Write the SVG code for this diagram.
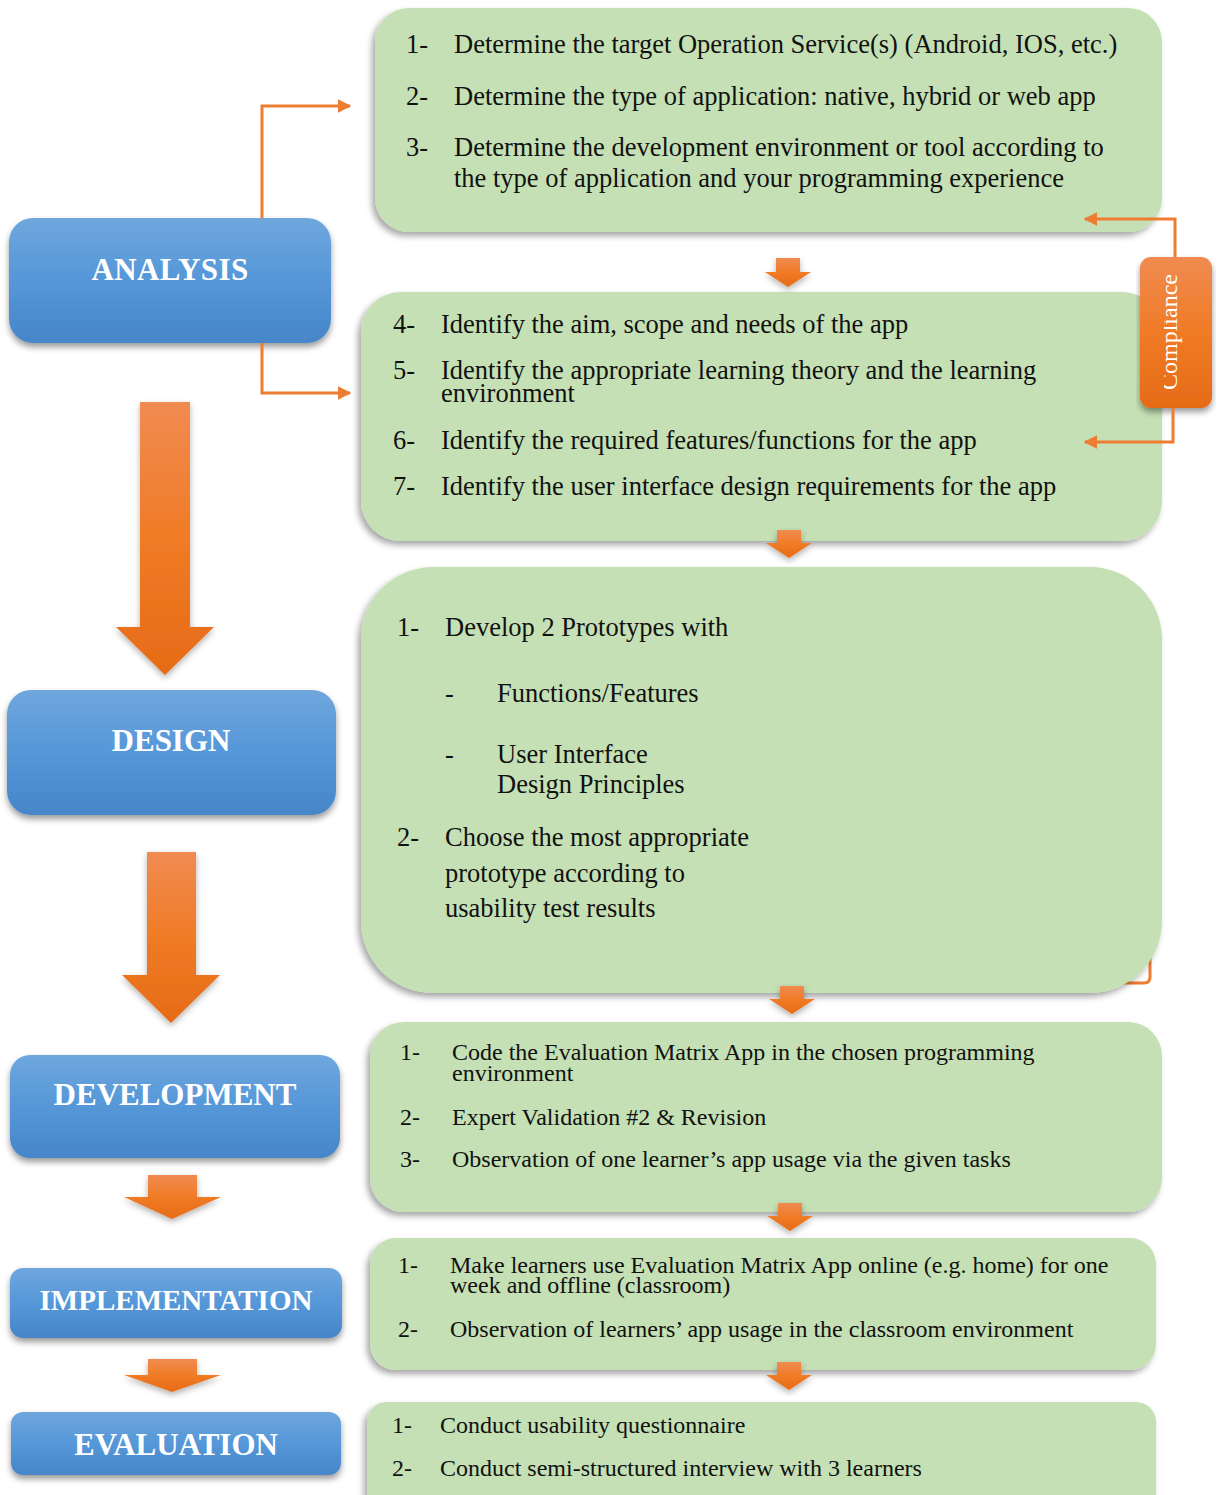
<svg xmlns="http://www.w3.org/2000/svg" width="1221" height="1495" viewBox="0 0 1221 1495">
<defs>
<style>
.g{fill:#c5e0b4;filter:url(#shG)}
.b{fill:url(#blueGrad);filter:url(#shB)}
.bigA{fill:url(#orGrad);filter:url(#shA)}
.smA{fill:url(#orGrad);filter:url(#shA)}
.t1{font-family:"Liberation Serif","Times New Roman",serif;font-size:26.5px;fill:#111}
.t2{font-family:"Liberation Serif","Times New Roman",serif;font-size:24px;fill:#111}
.lbl{font-family:"Liberation Serif","Times New Roman",serif;font-weight:bold;font-size:31px;fill:#fff;text-anchor:middle}
.conn{fill:none;stroke:#ed7d31;stroke-width:3}
</style>
<linearGradient id="blueGrad" x1="0" y1="0" x2="0" y2="1">
<stop offset="0" stop-color="#6fa7dd"/>
<stop offset="0.5" stop-color="#5597d8"/>
<stop offset="1" stop-color="#4686c8"/>
</linearGradient>
<linearGradient id="orGrad" x1="0" y1="0" x2="0" y2="1">
<stop offset="0" stop-color="#f08b51"/>
<stop offset="0.5" stop-color="#f07b26"/>
<stop offset="1" stop-color="#e66b17"/>
</linearGradient>
<filter id="shG" x="-5%" y="-10%" width="110%" height="125%">
<feDropShadow dx="-3" dy="4" stdDeviation="3" flood-color="#000" flood-opacity="0.35"/>
</filter>
<filter id="shB" x="-5%" y="-10%" width="110%" height="130%">
<feDropShadow dx="0" dy="4" stdDeviation="3" flood-color="#000" flood-opacity="0.4"/>
</filter>
<filter id="shA" x="-20%" y="-10%" width="140%" height="130%">
<feDropShadow dx="0" dy="3" stdDeviation="3" flood-color="#000" flood-opacity="0.3"/>
</filter>
<marker id="ah" viewBox="0 0 10 10" refX="9" refY="5" markerWidth="4.5" markerHeight="4.5" orient="auto-start-reverse" markerUnits="strokeWidth">
<path d="M0,0 L10,5 L0,10 Z" fill="#ed7d31"/>
</marker>
<clipPath id="clipC"><rect x="1164" y="257" width="48" height="151"/></clipPath>
</defs>
<rect width="1221" height="1495" fill="#fff"/>

<!-- hidden connector piece behind box 3 -->
<path class="conn" d="M1150,950 V977 Q1150,983 1144,983 H1110"/>

<!-- green content boxes -->
<g id="box-analysis-1">
<rect class="g" x="375" y="8" width="787" height="224" rx="34"/>
<text class="t1" x="406" y="53">1-</text><text class="t1" x="454" y="53">Determine the target Operation Service(s) (Android, IOS, etc.)</text>
<text class="t1" x="406" y="105">2-</text><text class="t1" x="454" y="105">Determine the type of application: native, hybrid or web app</text>
<text class="t1" x="406" y="156">3-</text><text class="t1" x="454" y="156">Determine the development environment or tool according to</text>
<text class="t1" x="454" y="187">the type of application and your programming experience</text>
</g>
<g id="box-analysis-2">
<rect class="g" x="361" y="292" width="801" height="249" rx="40"/>
<text class="t1" x="393" y="333">4-</text><text class="t1" x="441" y="333">Identify the aim, scope and needs of the app</text>
<text class="t1" x="393" y="379">5-</text><text class="t1" x="441" y="379">Identify the appropriate learning theory and the learning</text>
<text class="t1" x="441" y="402">environment</text>
<text class="t1" x="393" y="449">6-</text><text class="t1" x="441" y="449">Identify the required features/functions for the app</text>
<text class="t1" x="393" y="495">7-</text><text class="t1" x="441" y="495">Identify the user interface design requirements for the app</text>
</g>
<g id="box-design">
<rect class="g" x="361" y="567" width="801" height="426" rx="72"/>
<text class="t1" x="397" y="636">1-</text><text class="t1" x="445" y="636">Develop 2 Prototypes with</text>
<text class="t1" x="445" y="702">-</text><text class="t1" x="497" y="702">Functions/Features</text>
<text class="t1" x="445" y="763">-</text><text class="t1" x="497" y="763">User Interface</text>
<text class="t1" x="497" y="793">Design Principles</text>
<text class="t1" x="397" y="846">2-</text><text class="t1" x="445" y="846">Choose the most appropriate</text>
<text class="t1" x="445" y="882">prototype according to</text>
<text class="t1" x="445" y="917">usability test results</text>
</g>
<g id="box-development">
<rect class="g" x="370" y="1022" width="792" height="190" rx="34"/>
<text class="t2" x="400" y="1060">1-</text><text class="t2" x="452" y="1060">Code the Evaluation Matrix App in the chosen programming</text>
<text class="t2" x="452" y="1081">environment</text>
<text class="t2" x="400" y="1125">2-</text><text class="t2" x="452" y="1125">Expert Validation #2 &amp; Revision</text>
<text class="t2" x="400" y="1167">3-</text><text class="t2" x="452" y="1167">Observation of one learner’s app usage via the given tasks</text>
</g>
<g id="box-implementation">
<rect class="g" x="370" y="1238" width="786" height="132" rx="26"/>
<text class="t2" x="398" y="1273">1-</text><text class="t2" x="450" y="1273">Make learners use Evaluation Matrix App online (e.g. home) for one</text>
<text class="t2" x="450" y="1293">week and offline (classroom)</text>
<text class="t2" x="398" y="1337">2-</text><text class="t2" x="450" y="1337">Observation of learners’ app usage in the classroom environment</text>
</g>
<g id="box-evaluation">
<rect class="g" x="367" y="1402" width="789" height="110" rx="20"/>
<text class="t2" x="392" y="1433">1-</text><text class="t2" x="440" y="1433">Conduct usability questionnaire</text>
<text class="t2" x="392" y="1476">2-</text><text class="t2" x="440" y="1476">Conduct semi-structured interview with 3 learners</text>
</g>

<!-- phase boxes -->
<g id="phase-analysis">
<rect class="b" x="9" y="218" width="322" height="125" rx="24"/>
<text class="lbl" x="170" y="280" letter-spacing="0.4">ANALYSIS</text>
</g>
<g id="phase-design">
<rect class="b" x="7" y="690" width="329" height="125" rx="24"/>
<text class="lbl" x="171" y="751">DESIGN</text>
</g>
<g id="phase-development">
<rect class="b" x="10" y="1055" width="330" height="103" rx="20"/>
<text class="lbl" x="175" y="1105">DEVELOPMENT</text>
</g>
<g id="phase-implementation">
<rect class="b" x="10" y="1268" width="332" height="70" rx="13"/>
<text class="lbl" x="176" y="1310" style="font-size:29px">IMPLEMENTATION</text>
</g>
<g id="phase-evaluation">
<rect class="b" x="11" y="1412" width="330" height="63" rx="12"/>
<text class="lbl" x="176" y="1455">EVALUATION</text>
</g>

<!-- compliance -->
<g id="compliance">
<rect x="1140" y="257" width="72" height="151" rx="11" fill="url(#orGrad)" filter="url(#shB)"/>
<g clip-path="url(#clipC)">
<text transform="translate(1177,332) rotate(-90)" text-anchor="middle" font-family="'Liberation Serif','Times New Roman',serif" font-size="24" fill="#fff">Compliance</text>
</g>
</g>

<!-- connectors -->
<g id="connectors">
<path class="conn" d="M262,218 V106 H350" marker-end="url(#ah)"/>
<path class="conn" d="M262,343 V393 H350" marker-end="url(#ah)"/>
<path class="conn" d="M1175,257 V219 H1085" marker-end="url(#ah)"/>
<path class="conn" d="M1173,408 V442 H1085" marker-end="url(#ah)"/>
<!-- big phase arrows -->
<path class="bigA" d="M140,402 H190 V627 H214 L165,675 L116,627 H140 Z"/>
<path class="bigA" d="M147,852 H196 V975 H220 L171,1023 L122,975 H147 Z"/>
<path class="bigA" d="M148,1175 H197 V1197 H221 L172,1219 L124,1197 H148 Z"/>
<path class="bigA" d="M148,1359 H197 V1375 H221 L172,1392 L124,1375 H148 Z"/>
<!-- small step arrows -->
<path class="smA" d="M776,258 H800 V272 H811 L788,287 L765,272 H776 Z"/>
<path class="smA" d="M777,530 H801 V543 H812 L789,558 L766,543 H777 Z"/>
<path class="smA" d="M780,986 H804 V999 H815 L792,1014 L769,999 H780 Z"/>
<path class="smA" d="M778,1203 H802 V1216 H813 L790,1231 L767,1216 H778 Z"/>
<path class="smA" d="M777,1362 H801 V1375 H812 L789,1390 L766,1375 H777 Z"/>
</g>
</svg>
